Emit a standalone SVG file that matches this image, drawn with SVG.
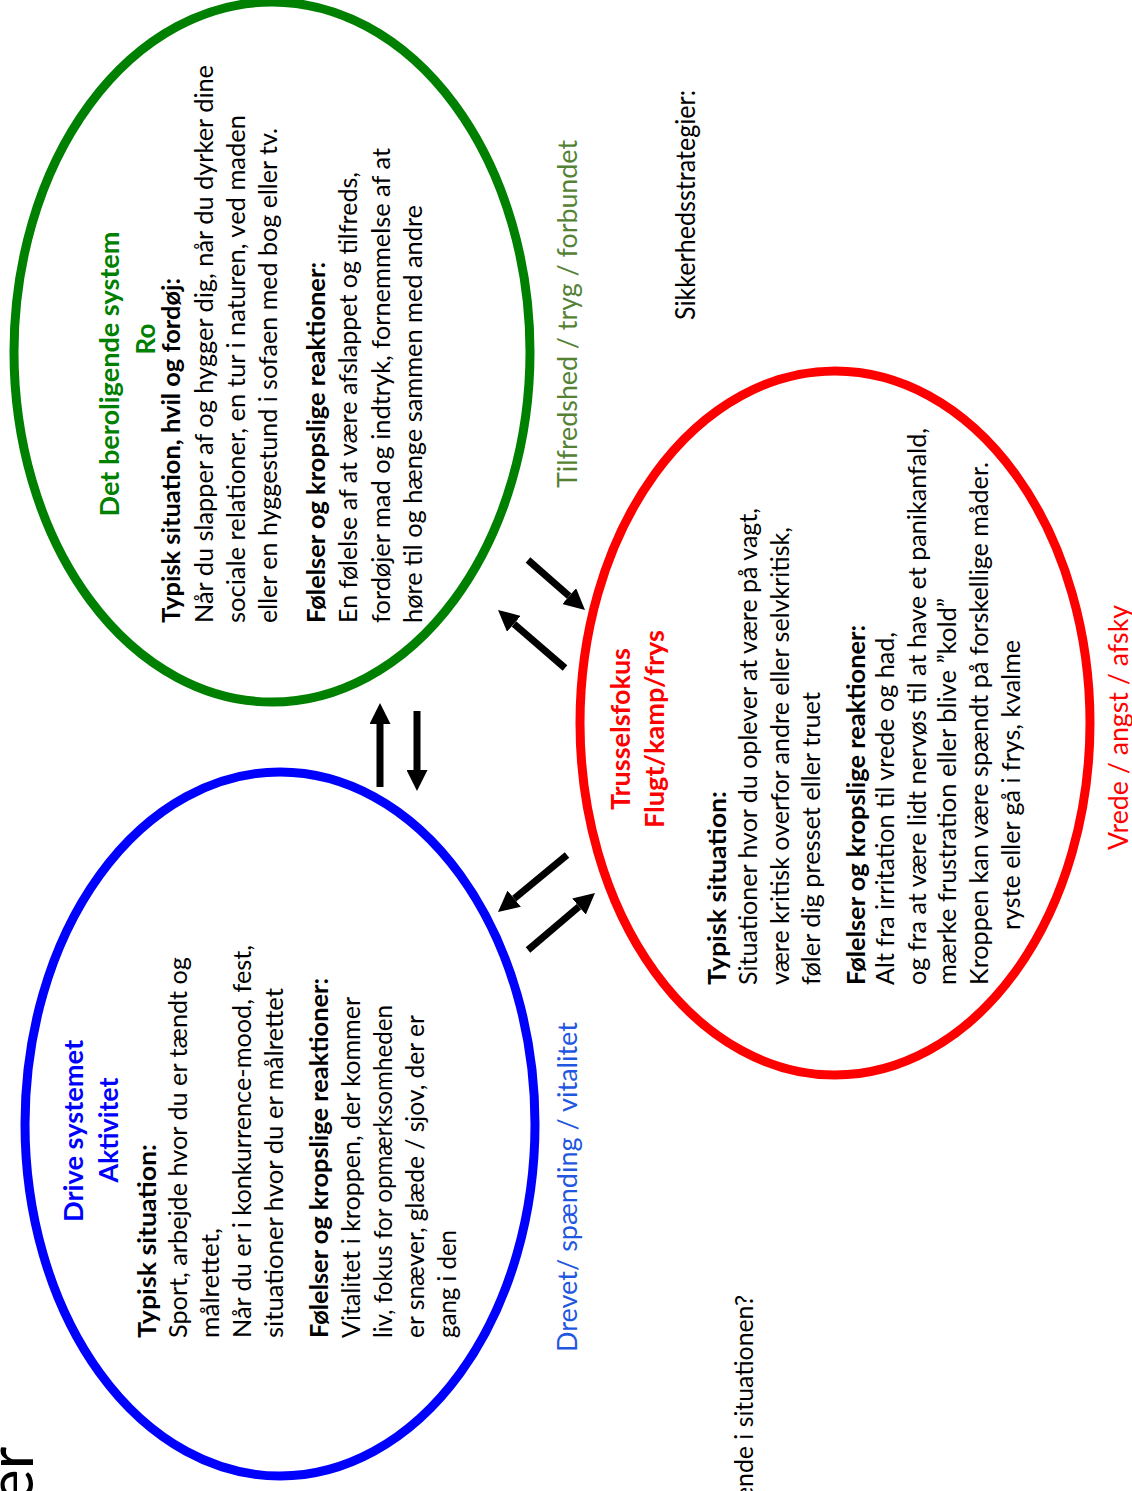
<svg xmlns="http://www.w3.org/2000/svg" width="1132" height="1491" viewBox="0 0 1132 1491">
<style>
  .ell { fill: none; stroke-width: 9; }
  .t { font-family: Lato, "Open Sans", "Liberation Sans", sans-serif; font-size: 25px; fill: #000; }
  .b { font-weight: bold; }
  .ttl { font-family: Lato, "Open Sans", "Liberation Sans", sans-serif; font-size: 26px; font-weight: bold; text-anchor: middle; }
  .lbl { font-family: Lato, "Open Sans", "Liberation Sans", sans-serif; font-size: 27px; }
  .big { font-family: Lato, "Open Sans", "Liberation Sans", sans-serif; font-size: 62px; fill: #000; }
  .arr { stroke: #000; stroke-width: 7; fill: none; marker-end: url(#ah); }
</style>
<defs>
  <marker id="ah" markerUnits="strokeWidth" markerWidth="3" markerHeight="3" viewBox="0 0 10 10" refX="0" refY="5" orient="auto">
    <path d="M0,0 L10,5 L0,10 z" fill="#000"/>
  </marker>
</defs>
<rect width="1132" height="1491" fill="#fff"/>

<g id="node-ro">
  <ellipse class="ell" cx="272" cy="352" rx="258" ry="350" stroke="#008000"/>
  <text class="ttl" fill="#008000" transform="translate(119,374) rotate(-90)" textLength="285" lengthAdjust="spacingAndGlyphs">Det beroligende system</text>
  <text class="ttl" fill="#008000" transform="translate(155,339) rotate(-90)">Ro</text>
  <text class="t b" transform="translate(180,623) rotate(-90)" textLength="345" lengthAdjust="spacingAndGlyphs">Typisk situation, hvil og fordøj:</text>
  <text class="t" transform="translate(213,623) rotate(-90)" textLength="558" lengthAdjust="spacingAndGlyphs">Når du slapper af og hygger dig, når du dyrker dine</text>
  <text class="t" transform="translate(245,623) rotate(-90)" textLength="508" lengthAdjust="spacingAndGlyphs">sociale relationer, en tur i naturen, ved maden</text>
  <text class="t" transform="translate(277,623) rotate(-90)" textLength="495" lengthAdjust="spacingAndGlyphs">eller en hyggestund i sofaen med bog eller tv.</text>
  <text class="t b" transform="translate(325,623) rotate(-90)" textLength="361" lengthAdjust="spacingAndGlyphs">Følelser og kropslige reaktioner:</text>
  <text class="t" transform="translate(357,623) rotate(-90)" textLength="451" lengthAdjust="spacingAndGlyphs">En følelse af at være afslappet og tilfreds,</text>
  <text class="t" transform="translate(390,623) rotate(-90)" textLength="475" lengthAdjust="spacingAndGlyphs">fordøjer mad og indtryk, fornemmelse af at</text>
  <text class="t" transform="translate(422,623) rotate(-90)" textLength="418" lengthAdjust="spacingAndGlyphs">høre til og hænge sammen med andre</text>
</g>

<g id="node-drive">
  <ellipse class="ell" cx="280" cy="1124" rx="255" ry="352" stroke="#0000FF"/>
  <text class="ttl" fill="#0000FF" transform="translate(83,1131) rotate(-90)" textLength="182" lengthAdjust="spacingAndGlyphs">Drive systemet</text>
  <text class="ttl" fill="#0000FF" transform="translate(118,1130) rotate(-90)" textLength="105" lengthAdjust="spacingAndGlyphs">Aktivitet</text>
  <text class="t b" transform="translate(156,1338) rotate(-90)" textLength="194" lengthAdjust="spacingAndGlyphs">Typisk situation:</text>
  <text class="t" transform="translate(187,1338) rotate(-90)" textLength="381" lengthAdjust="spacingAndGlyphs">Sport, arbejde hvor du er tændt og</text>
  <text class="t" transform="translate(219,1338) rotate(-90)" textLength="110" lengthAdjust="spacingAndGlyphs">målrettet,</text>
  <text class="t" transform="translate(251,1338) rotate(-90)" textLength="393" lengthAdjust="spacingAndGlyphs">Når du er i konkurrence-mood, fest,</text>
  <text class="t" transform="translate(283,1338) rotate(-90)" textLength="350" lengthAdjust="spacingAndGlyphs">situationer hvor du er målrettet</text>
  <text class="t b" transform="translate(328,1338) rotate(-90)" textLength="360" lengthAdjust="spacingAndGlyphs">Følelser og kropslige reaktioner:</text>
  <text class="t" transform="translate(360,1338) rotate(-90)" textLength="341" lengthAdjust="spacingAndGlyphs">Vitalitet i kroppen, der kommer</text>
  <text class="t" transform="translate(392,1338) rotate(-90)" textLength="333" lengthAdjust="spacingAndGlyphs">liv, fokus for opmærksomheden</text>
  <text class="t" transform="translate(424,1338) rotate(-90)" textLength="323" lengthAdjust="spacingAndGlyphs">er snæver, glæde / sjov, der er</text>
  <text class="t" transform="translate(456,1338) rotate(-90)" textLength="108" lengthAdjust="spacingAndGlyphs">gang i den</text>
</g>

<g id="node-trussel">
  <ellipse class="ell" cx="835" cy="723" rx="255" ry="352" stroke="#FF0000"/>
  <text class="ttl" fill="#FF0000" transform="translate(630,729) rotate(-90)" textLength="162" lengthAdjust="spacingAndGlyphs">Trusselsfokus</text>
  <text class="ttl" fill="#FF0000" transform="translate(664,729) rotate(-90)" textLength="198" lengthAdjust="spacingAndGlyphs">Flugt/kamp/frys</text>
  <text class="t b" transform="translate(726,985) rotate(-90)" textLength="194" lengthAdjust="spacingAndGlyphs">Typisk situation:</text>
  <text class="t" transform="translate(757,985) rotate(-90)" textLength="477" lengthAdjust="spacingAndGlyphs">Situationer hvor du oplever at være på vagt,</text>
  <text class="t" transform="translate(789,985) rotate(-90)" textLength="458" lengthAdjust="spacingAndGlyphs">være kritisk overfor andre eller selvkritisk,</text>
  <text class="t" transform="translate(820,985) rotate(-90)" textLength="293" lengthAdjust="spacingAndGlyphs">føler dig presset eller truet</text>
  <text class="t b" transform="translate(865,985) rotate(-90)" textLength="360" lengthAdjust="spacingAndGlyphs">Følelser og kropslige reaktioner:</text>
  <text class="t" transform="translate(894,985) rotate(-90)" textLength="353" lengthAdjust="spacingAndGlyphs">Alt fra irritation til vrede og had,</text>
  <text class="t" transform="translate(926,985) rotate(-90)" textLength="557" lengthAdjust="spacingAndGlyphs">og fra at være lidt nervøs til at have et panikanfald,</text>
  <text class="t" transform="translate(956,985) rotate(-90)" textLength="387" lengthAdjust="spacingAndGlyphs">mærke frustration eller blive ”kold”</text>
  <text class="t" transform="translate(988,985) rotate(-90)" textLength="523" lengthAdjust="spacingAndGlyphs">Kroppen kan være spændt på forskellige måder.</text>
  <text class="t" transform="translate(1020,930) rotate(-90)" textLength="290" lengthAdjust="spacingAndGlyphs">ryste eller gå i frys, kvalme</text>
</g>

<g id="connectors">
  <path class="arr" d="M380,787 L380,724"/>
  <path class="arr" d="M417,711 L417,770"/>
  <path class="arr" d="M528,560 L569.2,596.1"/>
  <path class="arr" d="M565,668 L513.9,623.8"/>
  <path class="arr" d="M567,855 L514.2,898.6"/>
  <path class="arr" d="M528,950 L579,906.6"/>
</g>

<g id="labels">
  <text class="lbl" fill="#548235" transform="translate(577,488) rotate(-90)" textLength="348" lengthAdjust="spacingAndGlyphs">Tilfredshed / tryg / forbundet</text>
  <text class="lbl" fill="#000" transform="translate(695,320) rotate(-90)" textLength="230" lengthAdjust="spacingAndGlyphs">Sikkerhedsstrategier:</text>
  <text class="lbl" fill="#1F57E0" transform="translate(577,1352) rotate(-90)" textLength="330" lengthAdjust="spacingAndGlyphs">Drevet/ spænding / vitalitet</text>
  <text class="lbl" fill="#FF0000" transform="translate(1128,850) rotate(-90)" textLength="245" lengthAdjust="spacingAndGlyphs">Vrede / angst / afsky</text>
  <text class="t" transform="translate(753,1500) rotate(-90)" textLength="205" lengthAdjust="spacingAndGlyphs">ende i situationen?</text>
  <text class="big" transform="translate(33,1502) rotate(-90)">er</text>
</g>
</svg>
